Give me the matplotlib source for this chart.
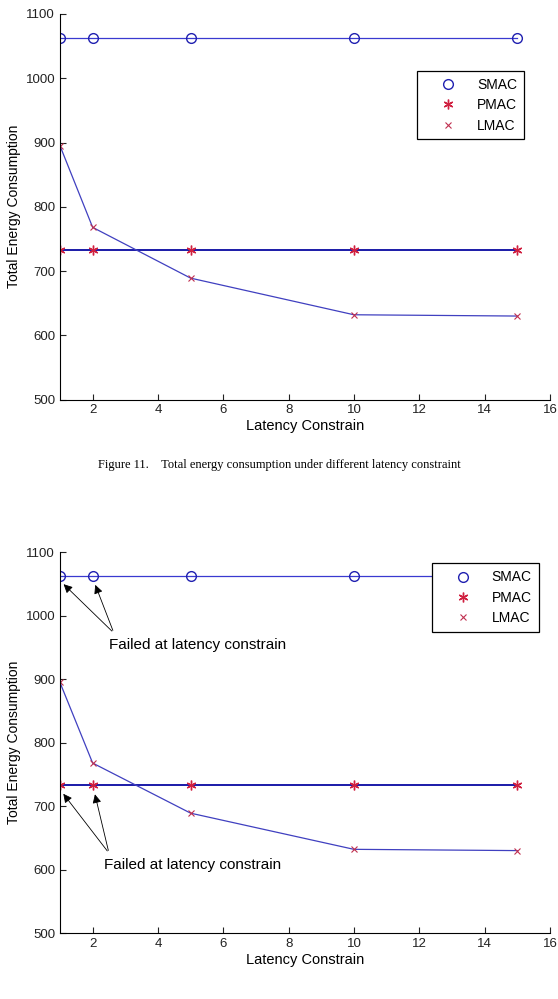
import numpy as np
import matplotlib
matplotlib.use('Agg')
import matplotlib.pyplot as plt

# latency constraint vs total energy
latency = [1, 2, 5, 10, 15]
smac = [1063, 1063, 1063, 1063, 1063]
pmac = [733, 733, 733, 733, 733]
lmac = [895, 768, 689, 632, 630]

xticks = [2, 4, 6, 8, 10, 12, 14, 16]
yticks = [500, 600, 700, 800, 900, 1000, 1100]

plt.rcParams['font.family'] = ['Liberation Sans', 'DejaVu Sans']
asterisk = (6, 2, 0)

def draw(ax, legend_anchor):
    ax.plot(latency, smac, color='#3a3ad0', lw=0.9)
    ax.plot(latency, pmac, color='#1a1aa8', lw=1.4)
    ax.plot(latency, lmac, color='#4040c0', lw=0.9)
    ax.plot(latency, smac, 'o', mfc='none', mec='#2020b0', ms=7, mew=1.0, ls='none', label='SMAC')
    ax.plot(latency, pmac, marker=asterisk, color='#d02040', ms=7, mew=1.0, ls='none', label='PMAC')
    ax.plot(latency, lmac, 'x', color='#c03050', ms=4, mew=0.8, ls='none', label='LMAC')
    ax.set_xlim(1, 16)
    ax.set_ylim(500, 1100)
    ax.set_xticks(xticks)
    ax.set_yticks(yticks)
    ax.tick_params(direction='in', length=4, labelsize=9.5, width=0.8, colors='#222222')
    for s in ['top', 'right']:
        ax.spines[s].set_visible(False)
    ax.set_xlabel('Latency Constrain', fontsize=10.5, labelpad=2)
    ax.set_ylabel('Total Energy Consumption', fontsize=10, labelpad=3)
    leg = ax.legend(loc='upper left', bbox_to_anchor=legend_anchor, borderaxespad=0,
                    frameon=True, fancybox=False, edgecolor='black', fontsize=10,
                    handlelength=3.5, handletextpad=0.3, borderpad=0.5,
                    labelspacing=0.45, framealpha=1)
    leg.get_frame().set_linewidth(0.9)
    leg.set_zorder(10)

fig = plt.figure(figsize=(5.58, 9.99), dpi=100)
ax1 = fig.add_axes([0.1075, 0.600, 0.878, 0.386])
ax2 = fig.add_axes([0.1075, 0.066, 0.878, 0.381])

draw(ax1, (0.729, 0.852))
draw(ax2, (0.759, 0.971))

fig.text(0.5, 0.535, 'Figure 11.    Total energy consumption under different latency constraint',
         ha='center', va='center', fontsize=9, family='Liberation Serif')

# failure annotations on the second plot
arrow = dict(arrowstyle='-|>', color='black', lw=0.6, mutation_scale=13)
for yv, ytxt, xtxt in [(1063, 965, 2.5), (733, 618, 2.35)]:
    for xv in [1, 2]:
        ax2.annotate('', xy=(xv + 0.05, yv - 10), xytext=(xtxt + 0.15, ytxt + 8),
                     arrowprops=arrow)
    ax2.text(xtxt, ytxt, 'Failed at latency constrain', fontsize=11,
             va='top', ha='left')

fig.savefig('out.png', dpi=100)
